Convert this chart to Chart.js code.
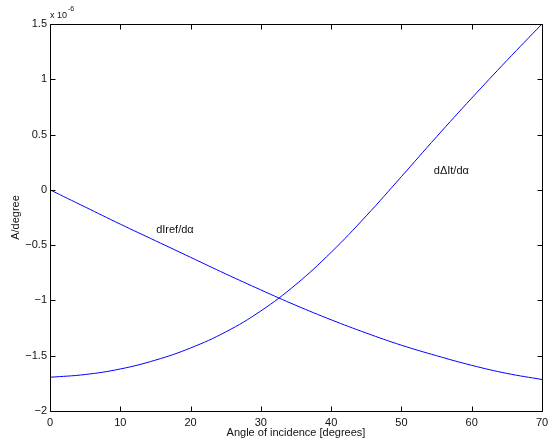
<!DOCTYPE html>
<html>
<head>
<meta charset="utf-8">
<script src="https://cdn.jsdelivr.net/npm/chart.js@4"></script>
<style>
html,body{margin:0;padding:0;background:#fff;}
#wrap{width:557px;height:444px;}
</style>
</head>
<body>
<div id="wrap"><canvas id="c" width="557" height="444"></canvas></div>
<script>
// Data (y values in units of 1e-6 A/degree)
const angles   = [0, 5, 10, 15, 20, 25, 30, 35, 40, 45, 50, 55, 60, 65, 70];
const dIref    = [0, -0.155, -0.31, -0.46, -0.61, -0.76, -0.905, -1.045, -1.175, -1.295, -1.405, -1.50, -1.587, -1.66, -1.715];
const dDeltaIt = [-1.695, -1.67, -1.62, -1.54, -1.43, -1.285, -1.095, -0.855, -0.565, -0.235, 0.12, 0.48, 0.83, 1.17, 1.5];
const xTicks = [0, 10, 20, 30, 40, 50, 60, 70];
const yTicks = [-2, -1.5, -1, -0.5, 0, 0.5, 1, 1.5];
const seriesLabels = ['dIref/d\u03B1', 'd\u0394It/d\u03B1'];
const labelAnchors = [[15.1, -0.36], [54.6, 0.17]];
const exponentText = ['x 10', '-6'];

const FONT = "'Liberation Sans', Arial, Helvetica, sans-serif";
const fmt = v => {
  const s = String(Math.abs(v));
  return v < 0 ? '\u2212' + s : s;
};

const frame = {
  id: 'frame',
  afterDatasetsDraw(chart) {
    const ctx = chart.ctx;
    const a = chart.chartArea;
    const xs = chart.scales.x, ys = chart.scales.y;
    ctx.save();
    ctx.strokeStyle = '#000';
    ctx.lineWidth = 1;
    const L = Math.round(a.left) + 0.5, R = Math.round(a.right) + 0.5;
    const T = Math.round(a.top) + 0.5, B = Math.round(a.bottom) + 0.5;
    ctx.beginPath();
    ctx.rect(L, T, R - L, B - T);
    const tl = 5;
    xTicks.forEach(v => {
      const px = Math.round(xs.getPixelForValue(v)) + 0.5;
      ctx.moveTo(px, B); ctx.lineTo(px, B - tl);
      ctx.moveTo(px, T); ctx.lineTo(px, T + tl);
    });
    yTicks.forEach(v => {
      const py = Math.round(ys.getPixelForValue(v)) + 0.5;
      ctx.moveTo(L, py); ctx.lineTo(L + tl, py);
      ctx.moveTo(R, py); ctx.lineTo(R - tl, py);
    });
    ctx.stroke();

    // exponent multiplier
    ctx.fillStyle = '#111';
    ctx.textBaseline = 'middle';
    ctx.textAlign = 'left';
    ctx.font = '9px ' + FONT;
    ctx.fillText(exponentText[0], a.left, 16);
    const w = ctx.measureText(exponentText[0]).width;
    ctx.font = '7px ' + FONT;
    ctx.fillText(exponentText[1], a.left + w + 1, 9);

    // curve labels
    ctx.font = '11px ' + FONT;
    seriesLabels.forEach((t, i) => {
      const [lx, ly] = labelAnchors[i];
      ctx.fillText(t, xs.getPixelForValue(lx), ys.getPixelForValue(ly));
    });
    ctx.restore();
  }
};

const mk = arr => angles.map((x, i) => ({x, y: arr[i]}));

new Chart(document.getElementById('c'), {
  type: 'line',
  data: {
    datasets: [
      {label: seriesLabels[0], data: mk(dIref), borderColor: '#0000ff', borderWidth: 1, pointRadius: 0, tension: 0.4, fill: false},
      {label: seriesLabels[1], data: mk(dDeltaIt), borderColor: '#0000ff', borderWidth: 1, pointRadius: 0, tension: 0.4, fill: false}
    ]
  },
  options: {
    responsive: false,
    animation: false,
    devicePixelRatio: 1,
    layout: {padding: {left: 0, top: 24, right: 15, bottom: 0}},
    plugins: {legend: {display: false}, tooltip: {enabled: false}},
    scales: {
      x: {
        type: 'linear', min: 0, max: 70,
        afterBuildTicks: s => { s.ticks = xTicks.map(v => ({value: v})); },
        afterFit: s => { s.height = 33; },
        grid: {display: false, drawTicks: false},
        border: {display: false},
        ticks: {color: '#111', font: {family: FONT, size: 11}, padding: 5, maxRotation: 0, autoSkip: false, callback: v => fmt(v)},
        title: {display: true, text: 'Angle of incidence [degrees]', color: '#111', font: {family: FONT, size: 11}, padding: {top: 0, bottom: 4}}
      },
      y: {
        type: 'linear', min: -2, max: 1.5,
        afterBuildTicks: s => { s.ticks = yTicks.map(v => ({value: v})); },
        afterFit: s => { s.width = 50; },
        grid: {display: false, drawTicks: false},
        border: {display: false},
        ticks: {color: '#111', font: {family: FONT, size: 11}, padding: 3, autoSkip: false, callback: v => fmt(v)},
        title: {display: true, text: 'A/degree', color: '#111', font: {family: FONT, size: 11}, padding: {top: 9, bottom: 0}}
      }
    }
  },
  plugins: [frame]
});
</script>
</body>
</html>
